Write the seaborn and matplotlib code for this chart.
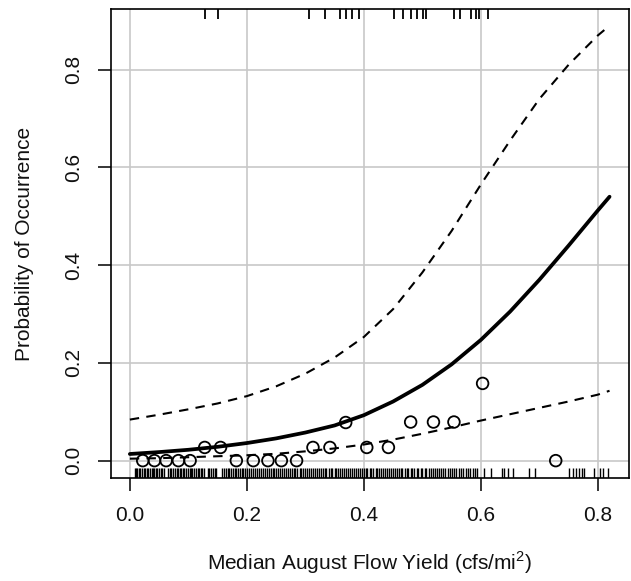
import matplotlib
matplotlib.use("Agg")
import matplotlib.pyplot as plt
import seaborn as sns
import pandas as pd

# ---------------- data ----------------
# fitted curve and 95% confidence band, sampled along x
curve_x = [0.00, 0.05, 0.10, 0.15, 0.20, 0.25, 0.30, 0.35, 0.40, 0.45,
           0.50, 0.55, 0.60, 0.65, 0.70, 0.75, 0.80, 0.82]
fit_y = [0.0136, 0.0175, 0.0222, 0.0283, 0.0360, 0.0455, 0.0575, 0.0720,
         0.0930, 0.1210, 0.1550, 0.1970, 0.2470, 0.3050, 0.3700, 0.4400,
         0.5120, 0.5400]
upper_y = [0.084, 0.094, 0.105, 0.117, 0.132, 0.152, 0.178, 0.211, 0.253,
           0.310, 0.385, 0.470, 0.565, 0.655, 0.740, 0.810, 0.870, 0.890]
lower_y = [0.004, 0.005, 0.007, 0.009, 0.011, 0.014, 0.019, 0.025, 0.033,
           0.043, 0.055, 0.068, 0.082, 0.095, 0.108, 0.121, 0.135, 0.143]

# binned observed proportions (open circles)
bin_x = [0.022, 0.042, 0.062, 0.083, 0.103, 0.128, 0.155, 0.182, 0.211,
         0.236, 0.259, 0.285, 0.313, 0.342, 0.369, 0.405, 0.442, 0.480,
         0.519, 0.554, 0.603, 0.728]
bin_y = [0.0, 0.0, 0.0, 0.0, 0.0, 0.027, 0.027, 0.0, 0.0, 0.0, 0.0, 0.0,
         0.027, 0.027, 0.078, 0.027, 0.027, 0.079, 0.079, 0.079, 0.158, 0.0]

# rug: sites where the species was present (top) / absent (bottom)
present_x = [0.129, 0.151, 0.306, 0.333, 0.359, 0.369, 0.380, 0.391, 0.451,
             0.467, 0.481, 0.490, 0.501, 0.507, 0.554, 0.565, 0.583, 0.591,
             0.597, 0.612]
absent_x = [0.008, 0.011, 0.013, 0.016, 0.018, 0.021, 0.024, 0.026, 0.029,
            0.031, 0.034, 0.037, 0.039, 0.042, 0.045, 0.047, 0.050, 0.053,
            0.055, 0.058, 0.066, 0.069, 0.071, 0.074, 0.077, 0.080, 0.082,
            0.085, 0.088, 0.091, 0.093, 0.096, 0.099, 0.102, 0.104, 0.107,
            0.110, 0.113, 0.116, 0.118, 0.121, 0.124, 0.127, 0.133, 0.136,
            0.139, 0.142, 0.145, 0.148, 0.158, 0.161, 0.164, 0.167, 0.170,
            0.173, 0.176, 0.179, 0.182, 0.185, 0.188, 0.191, 0.194, 0.197,
            0.201, 0.204, 0.207, 0.211, 0.214, 0.217, 0.221, 0.224, 0.227,
            0.231, 0.234, 0.237, 0.241, 0.244, 0.247, 0.250, 0.254, 0.257,
            0.260, 0.263, 0.267, 0.270, 0.273, 0.277, 0.280, 0.283, 0.286,
            0.290, 0.293, 0.296, 0.300, 0.303, 0.306, 0.310, 0.313, 0.316,
            0.320, 0.323, 0.326, 0.330, 0.333, 0.336, 0.340, 0.343, 0.346,
            0.350, 0.353, 0.356, 0.360, 0.363, 0.366, 0.370, 0.373, 0.376,
            0.380, 0.383, 0.386, 0.390, 0.393, 0.396, 0.400, 0.403, 0.406,
            0.410, 0.413, 0.416, 0.420, 0.423, 0.426, 0.430, 0.433, 0.436,
            0.440, 0.443, 0.446, 0.450, 0.453, 0.456, 0.460, 0.463, 0.466,
            0.470, 0.473, 0.476, 0.480, 0.483, 0.486, 0.490, 0.493, 0.497,
            0.500, 0.504, 0.507, 0.511, 0.514, 0.518, 0.521, 0.525, 0.528,
            0.532, 0.536, 0.539, 0.543, 0.547, 0.550, 0.554, 0.558, 0.562,
            0.566, 0.570, 0.574, 0.578, 0.582, 0.586, 0.590, 0.594, 0.605,
            0.617, 0.636, 0.640, 0.647, 0.655, 0.683, 0.693, 0.751, 0.758,
            0.763, 0.767, 0.773, 0.777, 0.793, 0.803, 0.808, 0.818]

x_ticks = [0.0, 0.2, 0.4, 0.6, 0.8]
y_ticks = [0.0, 0.2, 0.4, 0.6, 0.8]
x_label = "Median August Flow Yield (cfs/mi$^2$)"
y_label = "Probability of Occurrence"

# ---------------- plotting ----------------
sns.set_style("ticks")
plt.rcParams["font.family"] = ["Liberation Sans", "DejaVu Sans"]
plt.rcParams["mathtext.fontset"] = "custom"
plt.rcParams["mathtext.rm"] = "Liberation Sans"

FS = 15

fig = plt.figure(figsize=(6.31, 5.81), dpi=100)
ax = fig.add_axes([0.1754, 0.1773, 0.8210, 0.8067])

curves = pd.DataFrame({"x": curve_x, "fit": fit_y,
                       "upper": upper_y, "lower": lower_y})
bins = pd.DataFrame({"x": bin_x, "p": bin_y})

ax.grid(True, color="#c8c8c8", lw=1.2)
ax.set_axisbelow(True)

sns.lineplot(data=curves, x="x", y="upper", ax=ax, color="black", lw=1.5,
             linestyle=(0, (4.5, 3.5)))
sns.lineplot(data=curves, x="x", y="lower", ax=ax, color="black", lw=1.5,
             linestyle=(0, (4.5, 3.5)))
sns.lineplot(data=curves, x="x", y="fit", ax=ax, color="black", lw=2.7)

sns.scatterplot(data=bins, x="x", y="p", ax=ax, s=70, marker="o",
                facecolors="none", edgecolor="black", linewidth=1.3,
                zorder=5)

sns.rugplot(x=absent_x, ax=ax, height=0.021, color="black", lw=1.6)
ax.vlines(present_x, 1 - 0.021, 1, transform=ax.get_xaxis_transform(),
          color="black", lw=1.3)

ax.set_xlim(-0.0328, 0.8528)
ax.set_ylim(-0.0355, 0.9235)
ax.set_xticks(x_ticks)
ax.set_yticks(y_ticks)
ax.set_xticklabels([f"{t:.1f}" for t in x_ticks])
ax.set_yticklabels([f"{t:.1f}" for t in y_ticks], rotation=90, va="center")

ax.tick_params(axis="both", direction="out", length=9.5, width=1.1,
               color="black", labelsize=FS, labelcolor="#111111")
ax.tick_params(axis="x", pad=11)
ax.tick_params(axis="y", pad=10)

for s in ax.spines.values():
    s.set_visible(True)
    s.set_color("black")
    s.set_linewidth(1.2)

ax.set_xlabel(x_label, fontsize=FS, labelpad=17, color="#111111")
ax.set_ylabel(y_label, fontsize=FS, labelpad=22, color="#111111")

fig.savefig("out.png", dpi=100)
